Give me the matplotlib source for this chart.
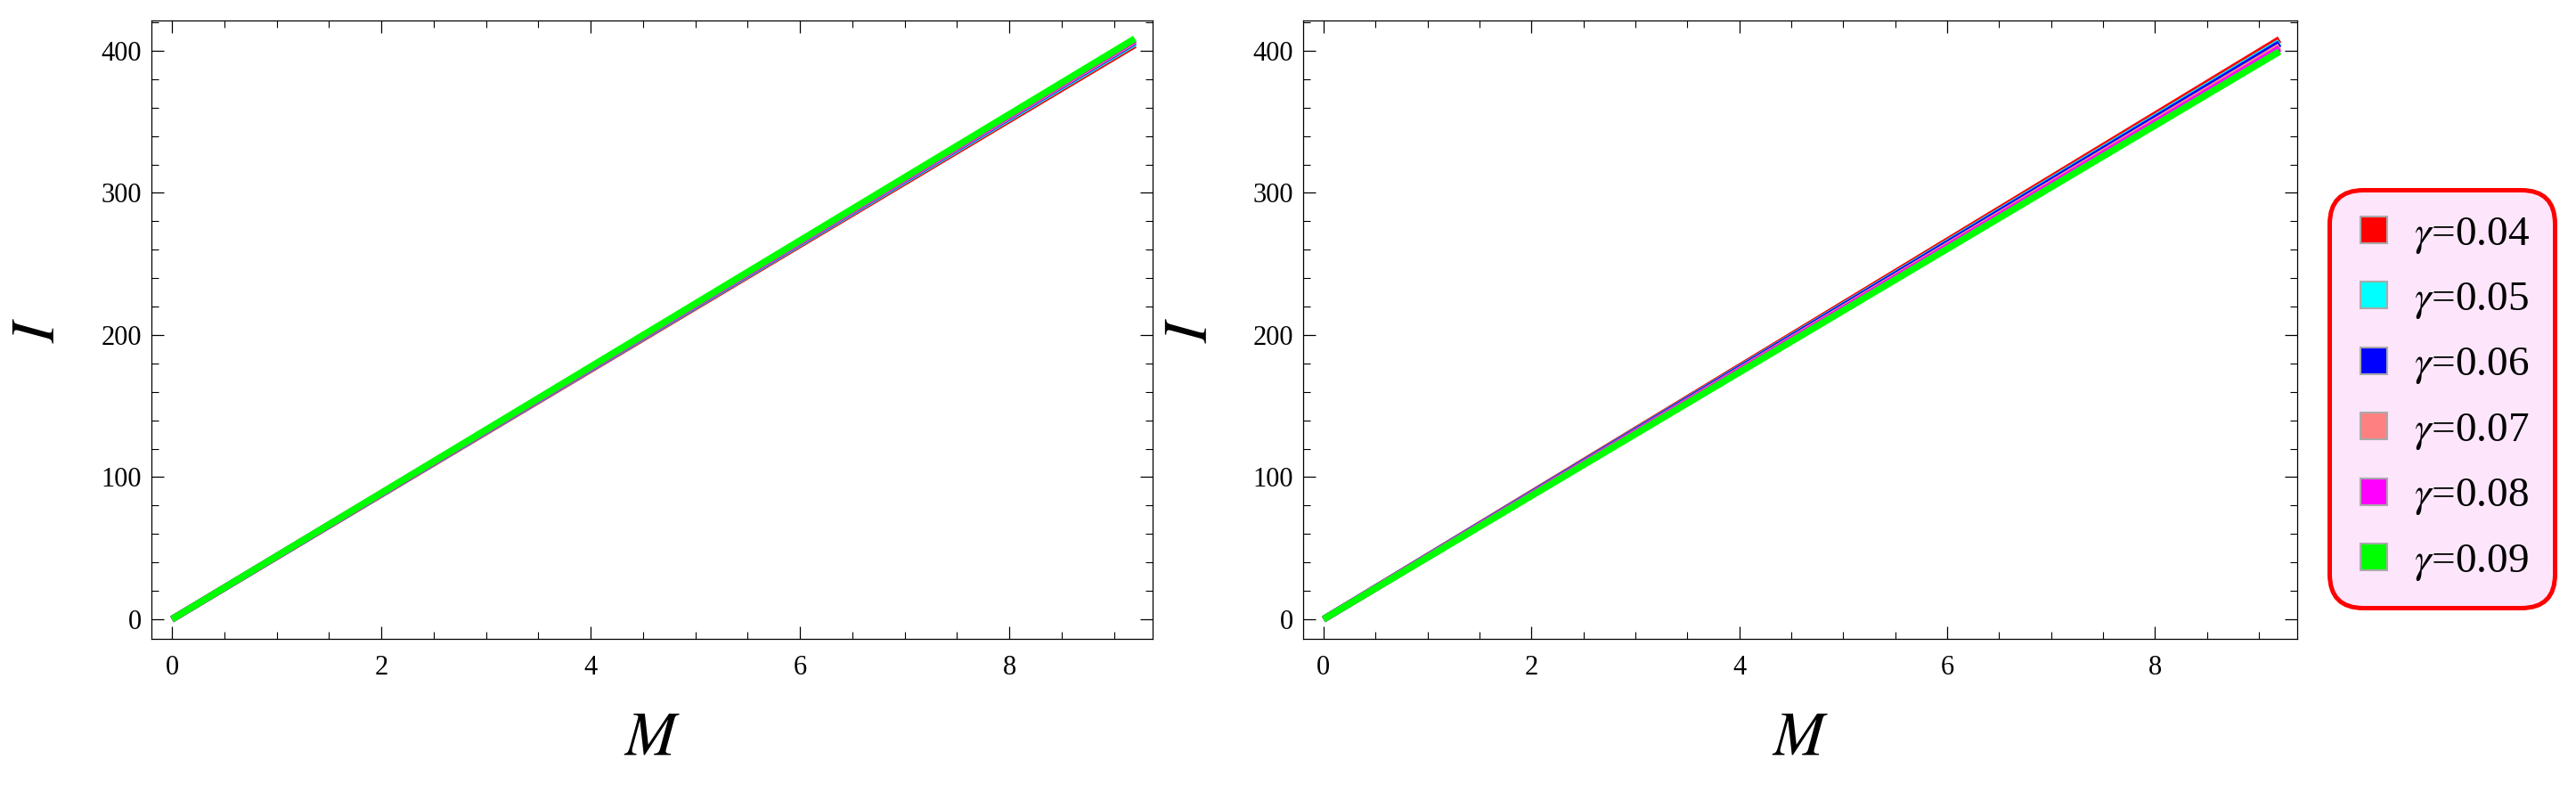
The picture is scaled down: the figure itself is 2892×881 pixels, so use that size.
import numpy as np
import matplotlib
matplotlib.use("Agg")
import matplotlib.pyplot as plt
from matplotlib.lines import Line2D
from matplotlib.ticker import MultipleLocator

plt.rcParams["font.family"] = "Liberation Serif"
plt.rcParams["mathtext.fontset"] = "stix"
plt.rcParams["font.size"] = 22
plt.rcParams["axes.linewidth"] = 0.9
plt.rcParams["xtick.direction"] = "in"
plt.rcParams["ytick.direction"] = "in"
plt.rcParams["xtick.top"] = True
plt.rcParams["ytick.right"] = True
plt.rcParams["xtick.major.size"] = 10
plt.rcParams["xtick.minor.size"] = 6
plt.rcParams["ytick.major.size"] = 10
plt.rcParams["ytick.minor.size"] = 6
plt.rcParams["xtick.major.width"] = 0.9
plt.rcParams["xtick.minor.width"] = 0.8
plt.rcParams["ytick.major.width"] = 0.9
plt.rcParams["ytick.minor.width"] = 0.8
plt.rcParams["xtick.major.pad"] = 13
plt.rcParams["ytick.major.pad"] = 8

# data: straight lines from M=0 to M=9.2
gammas = ["0.04", "0.05", "0.06", "0.07", "0.08", "0.09"]
colors = ["#FF0000", "#00FFFF", "#0000FF", "#FF8080", "#FF00FF", "#00FF00"]
M = [0.0, 9.2]
I_left_start = [0, 0, 0, 0, 0, 0]
I_left_end = [404.2, 405.5, 406.4, 407.0, 407.7, 408.5]
I_right_start = [0, 0, 0, 0, 0, 0]
I_right_end = [408.0, 406.0, 405.0, 403.0, 401.5, 399.5]

xticks = [0, 2, 4, 6, 8]
yticks = [0, 100, 200, 300, 400]

fig = plt.figure(figsize=(28.92, 8.81), dpi=100)
ax1 = fig.add_axes([170/2892, 1 - 717/881, 1124/2892, 694/881])
ax2 = fig.add_axes([1463/2892, 1 - 717/881, 1116/2892, 694/881])

panels = [(ax1, I_left_start, I_left_end), (ax2, I_right_start, I_right_end)]
for ax, starts, ends in panels:
    for s, e, c in zip(starts, ends, colors):
        ax.plot(M, [s, e], color=c, lw=5.5, solid_capstyle="butt")
    ax.set_xlim(-0.196, 9.37)
    ax.set_ylim(-13.8, 421.3)
    ax.set_xticks(xticks)
    ax.set_yticks(yticks)
    ax.xaxis.set_minor_locator(MultipleLocator(0.5))
    ax.yaxis.set_minor_locator(MultipleLocator(20))
    ax.set_xlabel("$M$", fontsize=50, va="center")
    ax.set_ylabel("$I$", fontsize=50, va="center")
    ax.xaxis.set_label_coords(0.5, -113/694)
    ax.yaxis.set_label_coords(-125/1120, 0.5)

handles = [Line2D([], [], marker="s", linestyle="none", markersize=21,
                  markerfacecolor=c, markeredgecolor="#AAAAAA", markeredgewidth=1.5)
           for c in colors]
labels = ["$\\gamma$=" + g for g in gammas]
leg = fig.legend(handles, labels, loc="center", bbox_to_anchor=(0.948, 0.492),
                 fontsize=34, frameon=True, fancybox=True, handlelength=0.9,
                 handletextpad=0.5, labelspacing=0.6, borderpad=0.3,
                 borderaxespad=0)
frame = leg.get_frame()
frame.set_facecolor("#FDE6FC")
frame.set_edgecolor("#FF0000")
frame.set_linewidth(3.6)
frame.set_alpha(1)
frame.set_boxstyle("round,pad=0.3,rounding_size=0.8")

fig.savefig("out.png", dpi=100)
